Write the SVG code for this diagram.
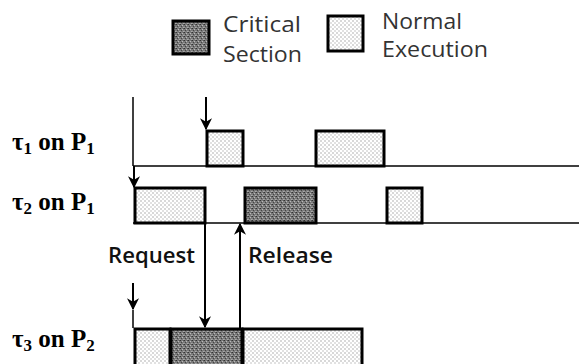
<svg xmlns="http://www.w3.org/2000/svg" width="579" height="364" viewBox="0 0 579 364">
<defs>
<pattern id="dots" width="4" height="4" patternUnits="userSpaceOnUse">
<rect width="4" height="4" fill="#fff"/>
<rect x="0.5" y="0.5" width="1" height="1" fill="#666"/>
<rect x="2.5" y="2.5" width="1" height="1" fill="#888"/>
</pattern>
<pattern id="noise" width="4" height="4" patternUnits="userSpaceOnUse">
<rect width="4" height="4" fill="#7a7a7a"/>
<rect x="0" y="0" width="1" height="1" fill="#333"/>
<rect x="2" y="1" width="1" height="1" fill="#bbb"/>
<rect x="1" y="2" width="1" height="1" fill="#444"/>
<rect x="3" y="3" width="1" height="1" fill="#aaa"/>
<rect x="3" y="0" width="1" height="1" fill="#555"/>
<rect x="0" y="3" width="1" height="1" fill="#999"/>
</pattern>
<marker id="ah" viewBox="0 0 10 10" refX="9" refY="5" markerWidth="6" markerHeight="6" orient="auto">
<path d="M0,0 L10,5 L0,10 L3,5 z" fill="#000"/>
</marker>
</defs>
<style>
.n{fill:url(#dots);stroke:#000;stroke-width:3}
.c{fill:url(#noise);stroke:#000;stroke-width:3}
.ln{stroke:#000;stroke-width:1.5;fill:none}
.ar{stroke:#000;stroke-width:2;fill:none;marker-end:url(#ah)}
.lg{font-family:"Open Sans","Liberation Sans",sans-serif;font-size:21px;fill:#333}
.lb{font-family:"Open Sans","Liberation Sans",sans-serif;font-size:21px;font-weight:600;fill:#111}
.tl{font-family:"Liberation Serif",serif;font-size:25px;font-weight:bold;fill:#000}
.sub{font-size:17px}
</style>
<rect width="579" height="364" fill="#fff"/>
<g id="legend">
<rect class="c" x="173" y="21" width="36" height="33"/>
<text class="lg" x="223" y="32" textLength="78" lengthAdjust="spacingAndGlyphs">Critical</text>
<text class="lg" x="223" y="62" textLength="79" lengthAdjust="spacingAndGlyphs">Section</text>
<rect class="n" x="328" y="16" width="35" height="35"/>
<text class="lg" x="382" y="29" textLength="80" lengthAdjust="spacingAndGlyphs">Normal</text>
<text class="lg" x="382" y="57" textLength="106" lengthAdjust="spacingAndGlyphs">Execution</text>
</g>
<g id="labels">
<text class="tl" x="12" y="150">τ<tspan class="sub" dy="4">1</tspan><tspan dy="-4"> on P</tspan><tspan class="sub" dy="4">1</tspan></text>
<text class="tl" x="12" y="210">τ<tspan class="sub" dy="4">2</tspan><tspan dy="-4"> on P</tspan><tspan class="sub" dy="4">1</tspan></text>
<text class="tl" x="12" y="347">τ<tspan class="sub" dy="4">3</tspan><tspan dy="-4"> on P</tspan><tspan class="sub" dy="4">2</tspan></text>
</g>
<g id="axes">
<line class="ln" x1="133" y1="97" x2="133" y2="166" stroke-width="1"/>
<line class="ln" x1="133" y1="166" x2="579" y2="166"/>
<line class="ln" x1="133" y1="223" x2="579" y2="223"/>
<line class="ln" x1="133" y1="310" x2="133" y2="328" stroke-width="1"/>
</g>
<g id="tau1">
<rect class="n" x="207" y="131" width="36" height="35"/>
<rect class="n" x="316" y="131" width="68" height="35"/>
</g>
<g id="tau2">
<rect class="n" x="135" y="188" width="70" height="35"/>
<rect class="c" x="245" y="188" width="71" height="35"/>
<rect class="n" x="387" y="188" width="35" height="35"/>
</g>
<g id="tau3">
<rect class="n" x="135" y="329" width="35" height="40"/>
<rect class="c" x="171" y="329" width="71" height="40"/>
<rect class="n" x="243" y="329" width="119" height="40"/>
</g>
<g id="connectors">
<line class="ar" x1="206" y1="97" x2="206" y2="129"/>
<line class="ar" x1="134" y1="166" x2="134" y2="187"/>
<line class="ar" x1="133" y1="283" x2="133" y2="309" stroke-width="1.5"/>
<line class="ar" x1="205" y1="223" x2="205" y2="327"/>
<line class="ar" x1="240" y1="328" x2="240" y2="224"/>
</g>
<g id="arrow-labels">
<text class="lb" x="108" y="263" textLength="87" lengthAdjust="spacingAndGlyphs">Request</text>
<text class="lb" x="248" y="263" textLength="85" lengthAdjust="spacingAndGlyphs">Release</text>
</g>
</svg>
